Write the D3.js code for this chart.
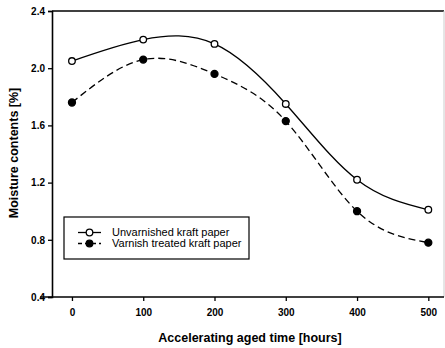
<!DOCTYPE html>
<html><head><meta charset="utf-8">
<script src="https://cdn.jsdelivr.net/npm/d3@7"></script>
<style>body{margin:0;background:#fff}svg{display:block}</style>
</head><body>
<script>
const hours = [0, 100, 200, 300, 400, 500];
const unvarnished = [2.05, 2.20, 2.17, 1.75, 1.22, 1.01];
const varnished = [1.76, 2.06, 1.96, 1.63, 1.00, 0.78];
const xTicks = [0, 100, 200, 300, 400, 500];
const yTicks = [0.4, 0.8, 1.2, 1.6, 2.0, 2.4];
const seriesNames = ["Unvarnished kraft paper", "Varnish treated kraft paper"];

const W = 445, H = 348;
const L = 52, R = 444, T = 11, B = 297;
const svg = d3.select("body").append("svg").attr("width", W).attr("height", H);
const x = d3.scaleLinear().domain([-28, 522]).range([L, R]);
const y = d3.scaleLinear().domain([0.4, 2.4]).range([B, T]);
const font = "Arial, 'Liberation Sans', sans-serif";

// frame: top line and faint right line
svg.append("line").attr("x1", L).attr("x2", R).attr("y1", T).attr("y2", T).attr("stroke", "#000").attr("stroke-width", 1.3);
svg.append("line").attr("x1", R).attr("x2", R).attr("y1", T).attr("y2", B).attr("stroke", "#ccc").attr("stroke-width", 1);

const xa = svg.append("g").attr("transform", `translate(0,${B})`)
  .call(d3.axisBottom(x).tickValues(xTicks).tickSize(4).tickPadding(8).tickFormat(d3.format("d")));
const ya = svg.append("g").attr("transform", `translate(${L},0)`)
  .call(d3.axisLeft(y).tickValues(yTicks).tickSize(4).tickPadding(3).tickFormat(d3.format(".1f")));
xa.select(".domain").attr("d", `M${L - 12},0H${R}`);
[xa, ya].forEach(a => {
  a.select(".domain").attr("stroke", "#000").attr("stroke-width", 1.6);
  a.selectAll(".tick line").attr("stroke", "#000").attr("stroke-width", 1.3);
  a.selectAll("text").attr("font-family", font).attr("font-size", 10).attr("font-weight", "bold").attr("fill", "#000");
});

svg.append("text").attr("x", 250).attr("y", 342).attr("text-anchor", "middle")
  .attr("font-family", font).attr("font-size", 12.5).attr("font-weight", "bold").text("Accelerating aged time [hours]");
svg.append("text").attr("transform", "translate(18,153) rotate(-90)").attr("text-anchor", "middle")
  .attr("font-family", font).attr("font-size", 12.5).attr("font-weight", "bold").text("Moisture contents [%]");

const line = d3.line().x((d, i) => x(hours[i])).y(d => y(d)).curve(d3.curveNatural);
const series = [
  { vals: unvarnished, dash: null, fill: "#fff", r: 3.3 },
  { vals: varnished, dash: "7,4", fill: "#000", r: 3.5 }
];
series.forEach(s => {
  svg.append("path").attr("d", line(s.vals)).attr("fill", "none").attr("stroke", "#000")
    .attr("stroke-width", 1.3).attr("stroke-dasharray", s.dash);
  svg.selectAll(null).data(s.vals).enter().append("circle")
    .attr("cx", (d, i) => x(hours[i])).attr("cy", d => y(d)).attr("r", s.r)
    .attr("fill", s.fill).attr("stroke", "#000").attr("stroke-width", 1.3);
});

// legend
const lg = svg.append("g");
lg.append("rect").attr("x", 64).attr("y", 217).attr("width", 185).attr("height", 42)
  .attr("fill", "#fff").attr("stroke", "#000").attr("stroke-width", 1.2);
const ly = [232.5, 243.5];
series.forEach((s, i) => {
  lg.append("line").attr("x1", 78).attr("x2", 101).attr("y1", ly[i]).attr("y2", ly[i])
    .attr("stroke", "#000").attr("stroke-width", 1.3).attr("stroke-dasharray", s.dash ? "4,3" : null);
  lg.append("circle").attr("cx", 89.5).attr("cy", ly[i]).attr("r", 3.3).attr("fill", s.fill).attr("stroke", "#000").attr("stroke-width", 1.3);
  lg.append("text").attr("x", 112).attr("y", ly[i] + 3.8).attr("font-family", font).attr("font-size", 11)
    .attr("fill", "#000").text(seriesNames[i]);
});
</script>
</body></html>
